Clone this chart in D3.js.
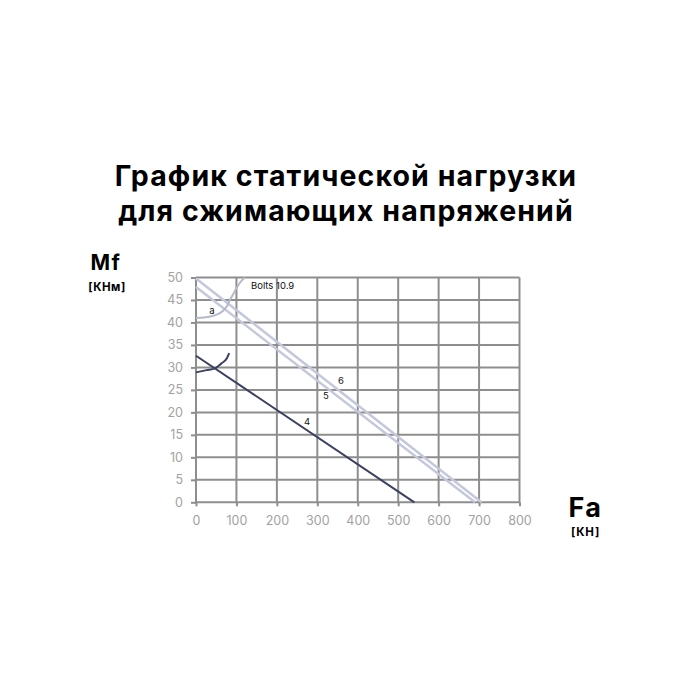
<!DOCTYPE html>
<html>
<head>
<meta charset="utf-8">
<script src="https://cdn.jsdelivr.net/npm/d3@7"></script>
<style>
  body { margin: 0; background: #fff; }
  svg { display: block; font-family: Inter, "Noto Sans", sans-serif; }
</style>
</head>
<body>
<div class="chart"></div>
<script>
// title + axis names
const titleLines = ['График статической нагрузки', 'для сжимающих напряжений'];
const yName = 'Mf', yUnit = '[КНм]';
const xName = 'Fa', xUnit = '[КН]';

// ticks
const xTicks = [0, 100, 200, 300, 400, 500, 600, 700, 800];
const yTicks = [0, 5, 10, 15, 20, 25, 30, 35, 40, 45, 50];

// series (Fa, Mf)
const line4 = [[0, 32.6], [540, 0]];
const line5 = [[0, 47.9], [690, 0]];
const line6 = [[0, 49.8], [706, 0]];
const curve4 = [[0, 28.9], [26, 29.4], [47, 29.8], [63, 30.9], [76, 32], [82, 33.2]];
const curveA = [[0, 41], [20, 41.1], [43, 41.5], [58, 42], [68, 42.7], [77, 43.7], [84, 45], [92, 46.3], [100, 47.6], [110, 49], [121, 50]];

// labels on the plot: [text, Fa, Mf]
const labels = [
  ['Bolts 10.9', 136, 47.4, 'start'],
  ['a', 39.6, 41.8, 'middle'],
  ['6', 358.6, 26.3, 'middle'],
  ['5', 321.5, 23, 'middle'],
  ['4', 274.5, 17.2, 'middle']
];

window.onload = function() {
  const width = 700, height = 700;
  const plot = { left: 196, right: 519.5, top: 277.5, bottom: 502.3 };

  const svg = d3.select('.chart').append('svg')
    .attr('width', width)
    .attr('height', height);

  // title
  svg.append('g').selectAll('text').data(titleLines)
    .enter().append('text')
      .attr('x', 346)
      .attr('y', (d, i) => 186 + i * 35)
      .attr('text-anchor', 'middle')
      .attr('font-size', 28.5)
      .attr('font-weight', 700)
      .attr('letter-spacing', 1.1)
      .attr('fill', '#000')
      .text(d => d);

  const x = d3.scaleLinear().domain([0, 800]).range([plot.left, plot.right]);
  const y = d3.scaleLinear().domain([0, 50]).range([plot.bottom, plot.top]);

  const gridColor = '#8e8e8e';

  // grid
  const grid = svg.append('g').attr('stroke', gridColor).attr('stroke-width', 2);
  grid.selectAll('line.v').data(xTicks).enter().append('line')
    .attr('x1', d => x(d)).attr('x2', d => x(d))
    .attr('y1', y(0)).attr('y2', y(50));
  grid.selectAll('line.h').data(yTicks).enter().append('line')
    .attr('y1', d => y(d)).attr('y2', d => y(d))
    .attr('x1', x(0)).attr('x2', x(800));

  // axes
  const xAxis = svg.append('g')
    .attr('transform', `translate(0,${plot.bottom})`)
    .call(d3.axisBottom(x).tickValues(xTicks).tickSize(4).tickPadding(10));
  const yAxis = svg.append('g')
    .attr('transform', `translate(${plot.left},0)`)
    .call(d3.axisLeft(y).tickValues(yTicks).tickSize(5).tickPadding(8));
  [xAxis, yAxis].forEach(a => {
    a.select('.domain').remove();
    a.selectAll('line').attr('stroke', gridColor).attr('stroke-width', 2);
    a.selectAll('text')
      .attr('fill', '#a2a2a2')
      .attr('font-size', 12.5)
      .attr('font-family', 'Inter, sans-serif');
  });

  // lines
  const path = d3.line().x(d => x(d[0])).y(d => y(d[1]));
  const curve = d3.line().x(d => x(d[0])).y(d => y(d[1])).curve(d3.curveMonotoneX);
  const series = [
    { data: line6, color: '#c3c8dc', w: 2.5, gen: path },
    { data: line5, color: '#c3c8dc', w: 2.5, gen: path },
    { data: curveA, color: '#b5b9c8', w: 2, gen: curve },
    { data: line4, color: '#3b4062', w: 2, gen: path },
    { data: curve4, color: '#3b4062', w: 2, gen: curve }
  ];
  svg.append('g').selectAll('path').data(series)
    .enter().append('path')
      .attr('d', d => d.gen(d.data))
      .attr('fill', 'none')
      .attr('stroke', d => d.color)
      .attr('stroke-width', d => d.w);

  svg.append('g').selectAll('text').data(labels)
    .enter().append('text')
      .attr('x', d => x(d[1]))
      .attr('y', d => y(d[2]))
      .attr('text-anchor', d => d[3])
      .attr('font-size', 9.5)
      .attr('fill', '#111')
      .text(d => d[0]);

  // axis names
  svg.append('text').attr('x', 106).attr('y', 270).attr('text-anchor', 'middle')
    .attr('font-size', 21).attr('font-weight', 700).attr('letter-spacing', 1.5).text(yName);
  svg.append('text').attr('x', 107).attr('y', 290.5).attr('text-anchor', 'middle')
    .attr('font-size', 11.5).attr('font-weight', 700).attr('letter-spacing', 0.5).text(yUnit);
  svg.append('text').attr('x', 585.5).attr('y', 516.5).attr('text-anchor', 'middle')
    .attr('font-size', 27).attr('font-weight', 700).attr('letter-spacing', 1.5).text(xName);
  svg.append('text').attr('x', 585.5).attr('y', 535.5).attr('text-anchor', 'middle')
    .attr('font-size', 11.5).attr('font-weight', 700).attr('letter-spacing', 0.8).text(xUnit);
};
</script>
</body>
</html>
